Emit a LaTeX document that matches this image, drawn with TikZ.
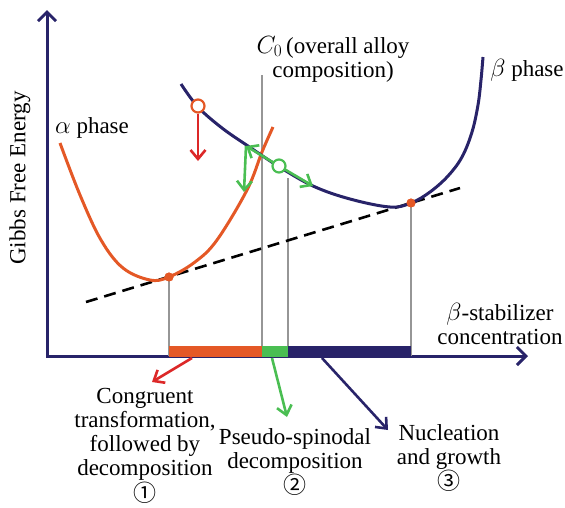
\documentclass[tikz,border=0pt]{standalone}
\usepackage{fontspec}
\setmainfont{Liberation Serif}
\newfontfamily\circfont{Noto Sans CJK JP}
\usetikzlibrary{arrows.meta}
\definecolor{navy}{RGB}{40,35,105}
\definecolor{alphaorange}{RGB}{228,88,38}
\definecolor{redarrow}{RGB}{220,40,40}
\definecolor{greenarrow}{RGB}{74,190,82}
\definecolor{guide}{RGB}{150,150,150}
\tikzset{
  barb/.style={-{Straight Barb[length=9pt,width=15pt]}, line width=2.6pt},
  ring/.style={circle, minimum size=13pt, inner sep=0pt, line width=2.2pt, fill=white},
  dot/.style={circle, fill=alphaorange, minimum size=9pt, inner sep=0pt},
  guideline/.style={guide, line width=1.2pt},
  lbl/.style={align=center, inner sep=0pt}
}

\begin{document}
\begin{tikzpicture}[x=1pt, y=-1pt, font=\fontsize{23}{24}\selectfont]
  \useasboundingbox (0,0) rectangle (565,507);
  % axes
  \coordinate (origin) at (47,356);
  \coordinate (ytip) at (47,10);
  \coordinate (xtip) at (528,356);
  \draw[navy, line width=3pt, line join=miter,
        {Straight Barb[length=9pt,width=18pt]}-{Straight Barb[length=9pt,width=18pt]}]
    (xtip) -- (origin) -- (ytip);
  \node[rotate=90, inner sep=0pt] (gibbs) at (20,178) {Gibbs Free Energy};
  % tangent points and guide lines
  \node[dot] (ta) at (169,277) {};
  \node[dot] (tb) at (411,203) {};
  \coordinate (c0) at (262,75);
  \coordinate (cs) at (288,178);
  \foreach \p in {ta,tb,c0,cs}
    \draw[guideline] (\p.center) -- (\p.center |- origin);
  % common tangent
  \draw[black, line width=2.6pt, dash pattern=on 12pt off 7pt] (86,302) -- (460,188);
  % free energy curves
  \draw[alphaorange, line width=3pt] plot[smooth, tension=0.6] coordinates {
    (60,143) (80,195) (101,240) (123,268) (150,280) (169,277) (195,262)
    (217,240) (247,190) (262,152) (273,127)};
  \draw[navy, line width=3pt] plot[smooth, tension=0.6] coordinates {
    (181,84) (198,107) (222,128) (248,146) (278,166) (313,186) (350,199)
    (390,207) (411,203) (430,192) (448,176) (462,157) (472,132) (478,105)
    (481,80) (483,57)};
  \node[dot] at (ta) {};
  \node[dot] at (tb) {};
  % composition ranges on the axis
  \fill[alphaorange] (169,346) rectangle (262,357);
  \fill[greenarrow] (262,346) rectangle (288,357);
  \fill[navy] (288,346) rectangle (411,357);
  % metastable points
  \node[ring, draw=alphaorange] (rc) at (198,106) {};
  \coordinate (rdown) at (198,161);
  \draw[barb, redarrow] (rc) -- (rdown);
  \coordinate (gc) at (279,166);
  \coordinate (gup) at (246,146);
  \coordinate (gright) at (313,186);
  \coordinate (gfall) at (244,192);
  \draw[barb, greenarrow] (gc) -- (gup);
  \draw[barb, greenarrow] (gc) -- (gright);
  \draw[barb, greenarrow] (gup) -- (gfall);
  \node[ring, draw=greenarrow] (gring) at (gc) {};
  % labels
  \node[lbl] (alab) at (92,128) {$\alpha$ phase};
  \node[lbl] (blab) at (527,70) {$\beta$ phase};
  \node[lbl] (c0lab) at (333,59) {$C_0$\,(overall alloy\\composition)};
  \node[lbl] (xlab) at (500,324) {$\beta$-stabilizer\\concentration};
  \node[lbl] (cong) at (145,446) {Congruent\\transformation,\\followed by\\decomposition\\{\circfont ①}};
  \node[lbl] (spin) at (295,462) {Pseudo-spinodal\\decomposition\\{\circfont ②}};
  \node[lbl] (nucl) at (449,458) {Nucleation\\and growth\\{\circfont ③}};
  % arrows from the ranges
  \coordinate (ra) at (192,358);
  \coordinate (rb) at (152,382);
  \coordinate (sa) at (272,358);
  \coordinate (sb) at (287,417);
  \coordinate (na) at (322,358);
  \coordinate (nb) at (388,430);
  \draw[barb, redarrow] (ra) -- (rb);
  \draw[barb, greenarrow] (sa) -- (sb);
  \draw[barb, navy] (na) -- (nb);
\end{tikzpicture}
\end{document}
